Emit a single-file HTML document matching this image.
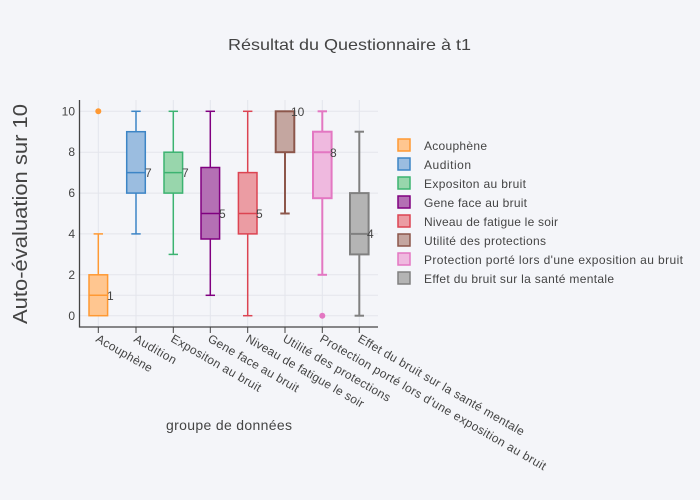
<!DOCTYPE html>
<html><head><meta charset="utf-8"><style>
html,body{margin:0;padding:0;background:#f4f5f9;}
svg{display:block;font-family:"Liberation Sans","DejaVu Sans",sans-serif;}
</style></head><body>
<svg width="700" height="500" viewBox="0 0 700 500" xmlns="http://www.w3.org/2000/svg">
<rect width="700" height="500" fill="#f4f5f9"/>
<text x="228" y="50" font-size="16" fill="#444" textLength="243" lengthAdjust="spacingAndGlyphs">Résultat du Questionnaire  à t1</text>
<!-- grid -->
<g stroke="#e3e5ec" stroke-width="1">
<line x1="80" x2="378" y1="315.7" y2="315.7"/>
<line x1="80" x2="378" y1="295.3" y2="295.3"/>
<line x1="80" x2="378" y1="274.8" y2="274.8"/>
<line x1="80" x2="378" y1="233.9" y2="233.9"/>
<line x1="80" x2="378" y1="193.1" y2="193.1"/>
<line x1="80" x2="378" y1="152.2" y2="152.2"/>
<line x1="80" x2="378" y1="111.3" y2="111.3"/>
<line y1="100" y2="327" x1="98.3" x2="98.3"/>
<line y1="100" y2="327" x1="136" x2="136"/>
<line y1="100" y2="327" x1="173.3" x2="173.3"/>
<line y1="100" y2="327" x1="210.3" x2="210.3"/>
<line y1="100" y2="327" x1="247.7" x2="247.7"/>
<line y1="100" y2="327" x1="285" x2="285"/>
<line y1="100" y2="327" x1="322.3" x2="322.3"/>
<line y1="100" y2="327" x1="359.3" x2="359.3"/>
</g>
<g stroke="#444" stroke-width="1.3">
<line x1="79.5" x2="79.5" y1="100" y2="327.5"/>
<line x1="79" x2="378" y1="327" y2="327"/>
</g>
<g stroke="#444" stroke-width="1">
<line y1="327" y2="333" x1="98.3" x2="98.3"/><line y1="327" y2="333" x1="136" x2="136"/><line y1="327" y2="333" x1="173.3" x2="173.3"/><line y1="327" y2="333" x1="210.3" x2="210.3"/><line y1="327" y2="333" x1="247.7" x2="247.7"/><line y1="327" y2="333" x1="285" x2="285"/><line y1="327" y2="333" x1="322.3" x2="322.3"/><line y1="327" y2="333" x1="359.3" x2="359.3"/>
</g>
<g font-size="12" fill="#444" text-anchor="end">
<text x="75" y="320">0</text><text x="75" y="279">2</text><text x="75" y="238">4</text><text x="75" y="197">6</text><text x="75" y="156">8</text><text x="75" y="115.5">10</text>
</g>
<text transform="translate(27,324) rotate(-90)" font-size="20" fill="#444" textLength="220" lengthAdjust="spacingAndGlyphs">Auto-évaluation sur 10</text>
<g font-size="12" fill="#444">
<text transform="translate(95,341) rotate(30)" textLength="63">Acouphène</text>
<text transform="translate(133,341) rotate(30)" textLength="47">Audition</text>
<text transform="translate(170,341) rotate(30)" textLength="102">Expositon au bruit</text>
<text transform="translate(207,341) rotate(30)" textLength="103">Gene face au bruit</text>
<text transform="translate(245,341) rotate(30)" textLength="134">Niveau de fatigue le soir</text>
<text transform="translate(282,341) rotate(30)" textLength="122">Utilité des protections</text>
<text transform="translate(319,341) rotate(30)" textLength="259">Protection porté lors d'une exposition au bruit</text>
<text transform="translate(357,341) rotate(30)" textLength="190">Effet du bruit sur la santé mentale</text>
</g>
<text x="166" y="430" font-size="14" fill="#444" textLength="126">groupe de données</text>
<!-- boxes -->
<g stroke-width="1.5">
<g stroke="#ff9933">
<line x1="98.3" x2="98.3" y1="274.8" y2="233.9"/><line x1="93.6" x2="103" y1="233.9" y2="233.9"/>
<rect x="89" y="274.8" width="18.6" height="40.9" fill="#ffc690"/>
<line x1="89" x2="107.6" y1="295.3" y2="295.3"/>
</g>
<circle cx="98.3" cy="111.3" r="3" fill="#ff9933"/>
<g stroke="#3d85c6">
<line x1="136" x2="136" y1="131.7" y2="111.3"/><line x1="136" x2="136" y1="193.1" y2="233.9"/>
<line x1="131.3" x2="140.7" y1="111.3" y2="111.3"/><line x1="131.3" x2="140.7" y1="233.9" y2="233.9"/>
<rect x="126.7" y="131.7" width="18.6" height="61.4" fill="#9bbde0"/>
<line x1="126.7" x2="145.3" y1="172.6" y2="172.6"/>
</g>
<g stroke="#3cb371">
<line x1="173.3" x2="173.3" y1="152.2" y2="111.3"/><line x1="173.3" x2="173.3" y1="193.1" y2="254.4"/>
<line x1="168.6" x2="178" y1="111.3" y2="111.3"/><line x1="168.6" x2="178" y1="254.4" y2="254.4"/>
<rect x="164" y="152.2" width="18.6" height="40.9" fill="#98d6ac"/>
<line x1="164" x2="182.6" y1="172.6" y2="172.6"/>
</g>
<g stroke="#800080">
<line x1="210.3" x2="210.3" y1="167.5" y2="111.3"/><line x1="210.3" x2="210.3" y1="239" y2="295.3"/>
<line x1="205.6" x2="215" y1="111.3" y2="111.3"/><line x1="205.6" x2="215" y1="295.3" y2="295.3"/>
<rect x="201" y="167.5" width="18.6" height="71.5" fill="#b470b4"/>
<line x1="201" x2="219.6" y1="213.5" y2="213.5"/>
</g>
<g stroke="#dc4452">
<line x1="247.7" x2="247.7" y1="172.6" y2="111.3"/><line x1="247.7" x2="247.7" y1="233.9" y2="315.7"/>
<line x1="243" x2="252.4" y1="111.3" y2="111.3"/><line x1="243" x2="252.4" y1="315.7" y2="315.7"/>
<rect x="238.4" y="172.6" width="18.6" height="61.3" fill="#eb9ca3"/>
<line x1="238.4" x2="257" y1="213.5" y2="213.5"/>
</g>
<g stroke="#8c564b" stroke-width="2">
<line x1="285" x2="285" y1="152.2" y2="213.5"/>
<line x1="280.3" x2="289.7" y1="213.5" y2="213.5"/>
<rect x="275.7" y="111.3" width="18.6" height="40.9" fill="#c4a6a0"/>
</g>
<g stroke="#e377c2" stroke-width="2">
<line x1="322.3" x2="322.3" y1="131.7" y2="111.3"/><line x1="322.3" x2="322.3" y1="198.2" y2="274.8"/>
<line x1="317.6" x2="327" y1="111.3" y2="111.3"/><line x1="317.6" x2="327" y1="274.8" y2="274.8"/>
<rect x="313" y="131.7" width="18.6" height="66.5" fill="#efb9df"/>
<line x1="313" x2="331.6" y1="152.2" y2="152.2"/>
</g>
<circle cx="322.3" cy="315.7" r="3" fill="#e377c2"/>
<g stroke="#808080" stroke-width="2">
<line x1="359.3" x2="359.3" y1="193.1" y2="131.7"/><line x1="359.3" x2="359.3" y1="254.4" y2="315.7"/>
<line x1="354.6" x2="364" y1="131.7" y2="131.7"/><line x1="354.6" x2="364" y1="315.7" y2="315.7"/>
<rect x="350" y="193.1" width="18.6" height="61.3" fill="#b4b4b4"/>
<line x1="350" x2="368.6" y1="233.9" y2="233.9"/>
</g>
</g>
<g font-size="12" fill="#444">
<text x="107" y="300">1</text>
<text x="145" y="177">7</text>
<text x="182" y="177">7</text>
<text x="219" y="218">5</text>
<text x="256" y="218">5</text>
<text x="291" y="116">10</text>
<text x="330" y="157">8</text>
<text x="367" y="238">4</text>
</g>
<g stroke-width="1.5">
<rect x="398" y="139" width="12" height="12" fill="#ffc690" stroke="#ff9933"/>
<rect x="398" y="158" width="12" height="12" fill="#9bbde0" stroke="#3d85c6"/>
<rect x="398" y="177" width="12" height="12" fill="#98d6ac" stroke="#3cb371"/>
<rect x="398" y="196" width="12" height="12" fill="#b470b4" stroke="#800080"/>
<rect x="398" y="215" width="12" height="12" fill="#eb9ca3" stroke="#dc4452"/>
<rect x="398" y="234" width="12" height="12" fill="#c4a6a0" stroke="#8c564b"/>
<rect x="398" y="253" width="12" height="12" fill="#efb9df" stroke="#e377c2"/>
<rect x="398" y="272" width="12" height="12" fill="#b4b4b4" stroke="#808080"/>
</g>
<g font-size="12" fill="#444">
<text x="424" y="150" textLength="63">Acouphène</text>
<text x="424" y="169" textLength="47">Audition</text>
<text x="424" y="188" textLength="102">Expositon au bruit</text>
<text x="424" y="207" textLength="103">Gene face au bruit</text>
<text x="424" y="226" textLength="134">Niveau de fatigue le soir</text>
<text x="424" y="245" textLength="122">Utilité des protections</text>
<text x="424" y="264" textLength="259">Protection porté lors d'une exposition au bruit</text>
<text x="424" y="283" textLength="190">Effet du bruit sur la santé mentale</text>
</g>
</svg>
</body></html>
